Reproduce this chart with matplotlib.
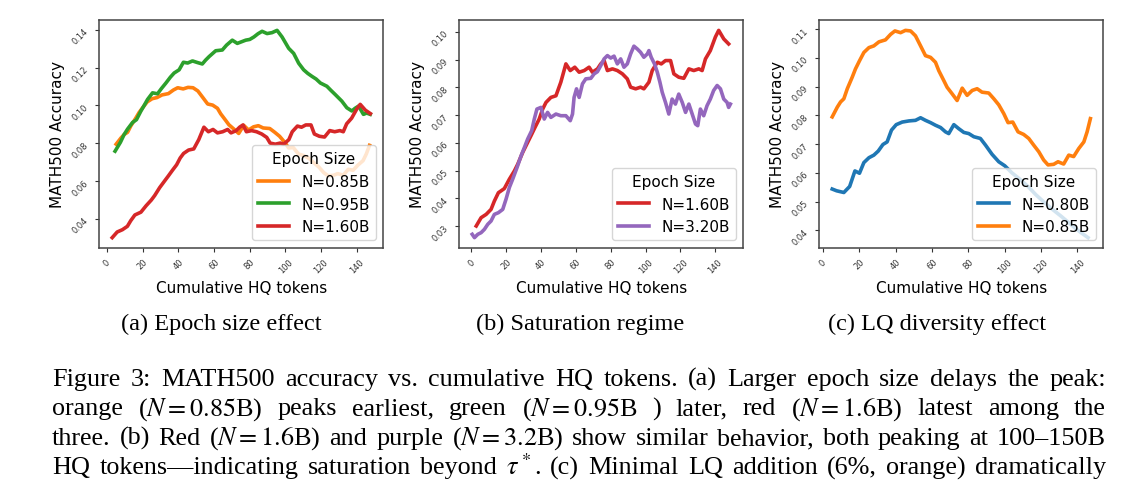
import matplotlib
matplotlib.use('Agg')
from matplotlib import pyplot as plt
from matplotlib.transforms import IdentityTransform

plt.rcParams['mathtext.fontset'] = 'stix'

''' data read off the figure '''
# N=0.85B run (appears in panels a and c)
orange_x = [5.1, 7.9, 9.7, 11.5, 13.4, 16.1, 17.9, 20.1, 22.5, 25.3, 28.0, 30.8, 34.4, 37.2, 39.6,
            42.7, 45.4, 48.2, 50.9, 53.7, 56.4, 59.2, 61.9, 63.7, 66.5, 68.3, 71.1, 73.8, 76.6, 79.3,
            82.1, 84.8, 87.5, 91.2, 94.0, 96.7, 99.5, 101.8, 104.4, 107.3, 110.4, 113.2, 115.9, 118.7,
            121.4, 123.8, 126.9, 129.3, 132.4, 135.2, 137.9, 140.7, 143.5, 145.3, 147.1]
orange_y = [0.0795, 0.0829, 0.0847, 0.0858, 0.0893, 0.0933, 0.0962, 0.0990, 0.1019, 0.1036, 0.1042,
            0.1056, 0.1063, 0.1082, 0.1094, 0.1088, 0.1096, 0.1094, 0.1077, 0.1042, 0.1008, 0.1002,
            0.0985, 0.0956, 0.0921, 0.0898, 0.0875, 0.0852, 0.0895, 0.0870, 0.0887, 0.0893, 0.0881,
            0.0878, 0.0858, 0.0837, 0.0806, 0.0775, 0.0777, 0.0743, 0.0734, 0.0720, 0.0697, 0.0674,
            0.0645, 0.0628, 0.0630, 0.0639, 0.0631, 0.0662, 0.0657, 0.0685, 0.0708, 0.0743, 0.0789]

# N=0.95B run (panel a)
green_x = [4.5, 7.5, 9.5, 11.5, 14.3, 16.5, 19.0, 20.8, 22.7, 25.5, 28.3, 30.5, 33.0, 35.5, 37.6,
           40.4, 42.8, 45.2, 47.9, 50.5, 53.4, 55.2, 57.2, 60.9, 62.8, 64.6, 67.0, 70.2, 73.0, 75.5,
           77.7, 80.0, 82.3, 84.6, 86.9, 89.7, 92.5, 95.3, 98.1, 101.8, 104.6, 107.4, 110.2, 112.5,
           114.9, 117.2, 119.6, 123.2, 125.5, 127.9, 131.6, 134.4, 137.2, 139.0, 141.0, 143.7, 145.5,
           147.5]
green_y = [0.0758, 0.0805, 0.0845, 0.0875, 0.0910, 0.0925, 0.0971, 0.1000, 0.1032, 0.1067, 0.1062,
           0.1090, 0.1119, 0.1150, 0.1172, 0.1189, 0.1229, 0.1225, 0.1236, 0.1228, 0.1220, 0.1240,
           0.1259, 0.1290, 0.1292, 0.1294, 0.1320, 0.1346, 0.1329, 0.1338, 0.1346, 0.1350, 0.1363,
           0.1380, 0.1393, 0.1381, 0.1386, 0.1398, 0.1363, 0.1303, 0.1276, 0.1224, 0.1189, 0.1170,
           0.1154, 0.1140, 0.1119, 0.1102, 0.1080, 0.1058, 0.1023, 0.0988, 0.0971, 0.0985, 0.0997,
           0.0953, 0.0960, 0.0953]

# N=1.60B run (panels a and b)
red_x = [2.9, 5.7, 8.6, 11.4, 13.3, 15.6, 19.0, 21.9, 24.8, 26.7, 29.5, 32.4, 34.3, 36.6, 39.0,
         41.0, 42.9, 45.7, 48.6, 51.4, 54.3, 56.8, 59.4, 61.9, 64.8, 67.6, 69.5, 72.4, 74.3, 76.2,
         78.1, 81.0, 83.8, 86.7, 89.5, 91.4, 94.3, 97.1, 99.0, 101.9, 103.8, 106.7, 109.0, 111.4,
         114.3, 116.2, 119.0, 121.9, 124.8, 127.6, 130.5, 132.4, 134.3, 137.1, 140.0, 141.9, 144.8,
         147.6]
red_y = [0.0300, 0.0330, 0.0342, 0.0360, 0.0390, 0.0420, 0.0435, 0.0469, 0.0499, 0.0523, 0.0565,
         0.0602, 0.0626, 0.0656, 0.0686, 0.0722, 0.0746, 0.0764, 0.0770, 0.0819, 0.0885, 0.0861,
         0.0873, 0.0855, 0.0861, 0.0873, 0.0855, 0.0867, 0.0885, 0.0897, 0.0861, 0.0867, 0.0861,
         0.0849, 0.0831, 0.0801, 0.0795, 0.0801, 0.0795, 0.0819, 0.0861, 0.0891, 0.0885, 0.0897,
         0.0897, 0.0849, 0.0837, 0.0833, 0.0867, 0.0861, 0.0867, 0.0861, 0.0903, 0.0933, 0.0982,
         0.1006, 0.0975, 0.0957]

# N=3.20B run (panel b)
purple_x = [0.6, 1.9, 3.8, 5.7, 7.6, 9.5, 11.4, 13.3, 15.6, 18.1, 20.0, 21.9, 23.8, 26.3, 28.6,
            30.5, 32.4, 34.7, 36.2, 37.7, 40.0, 41.9, 43.8, 45.7, 48.6, 51.4, 54.3, 56.8, 58.1,
            59.0, 60.4, 61.9, 63.8, 65.7, 68.6, 70.5, 72.4, 74.3, 76.2, 78.1, 80.0, 81.9, 83.8,
            85.7, 87.6, 89.5, 91.4, 93.3, 95.2, 97.1, 99.0, 101.0, 101.9, 103.2, 105.1, 106.7,
            108.2, 109.5, 111.4, 113.3, 115.2, 117.1, 119.0, 121.0, 122.9, 124.8, 126.7, 128.6,
            129.9, 131.4, 133.3, 135.2, 137.1, 139.0, 141.0, 142.9, 144.8, 146.7, 147.6, 148.6]
purple_y = [0.0270, 0.0258, 0.0270, 0.0276, 0.0288, 0.0306, 0.0318, 0.0342, 0.0348, 0.0360, 0.0397,
            0.0439, 0.0469, 0.0511, 0.0553, 0.0583, 0.0614, 0.0644, 0.0686, 0.0722, 0.0728, 0.0686,
            0.0710, 0.0692, 0.0704, 0.0698, 0.0698, 0.0680, 0.0704, 0.0764, 0.0795, 0.0764, 0.0813,
            0.0831, 0.0833, 0.0849, 0.0857, 0.0879, 0.0903, 0.0915, 0.0906, 0.0913, 0.0885, 0.0903,
            0.0873, 0.0885, 0.0921, 0.0949, 0.0939, 0.0927, 0.0909, 0.0921, 0.0933, 0.0909, 0.0885,
            0.0855, 0.0819, 0.0783, 0.0746, 0.0704, 0.0758, 0.0740, 0.0776, 0.0746, 0.0710, 0.0740,
            0.0704, 0.0668, 0.0662, 0.0722, 0.0698, 0.0734, 0.0758, 0.0789, 0.0807, 0.0795, 0.0758,
            0.0746, 0.0728, 0.0740]

# N=0.80B run (panel c)
blue_x = [5.1, 7.5, 11.5, 14.7, 17.6, 20.1, 22.5, 25.3, 28.0, 30.4, 33.0, 35.3, 37.7, 40.3, 43.6,
          47.3, 50.9, 53.7, 56.4, 59.2, 61.9, 64.7, 67.4, 69.2, 72.0, 74.7, 77.5, 80.2, 83.0, 86.6,
          89.4, 93.0, 96.7, 100.0, 104.0, 108.0, 112.8, 117.0, 122.0, 126.5, 131.1, 135.0, 138.5,
          142.0, 145.8]
blue_y = [0.0544, 0.0538, 0.0532, 0.0553, 0.0607, 0.0599, 0.0636, 0.0653, 0.0662, 0.0676, 0.0699,
          0.0708, 0.0749, 0.0768, 0.0777, 0.0781, 0.0783, 0.0792, 0.0783, 0.0775, 0.0766, 0.0758,
          0.0743, 0.0737, 0.0768, 0.0754, 0.0741, 0.0737, 0.0726, 0.0720, 0.0697, 0.0665, 0.0639,
          0.0625, 0.0600, 0.0580, 0.0553, 0.0525, 0.0496, 0.0472, 0.0449, 0.0428, 0.0409, 0.0392,
          0.0375]

xticks = [0, 20, 40, 60, 80, 100, 120, 140]
sub_captions = ['(a) Epoch size effect', '(b) Saturation regime', '(c) LQ diversity effect']
caption_lines = [
  'Figure 3:  MATH500 accuracy vs. cumulative HQ tokens.  (a) Larger epoch size delays the peak:',
  'orange ($N=0.85$B) peaks earliest, green ($N=0.95$B ) later, red ($N=1.6$B) latest among the',
  'three. (b) Red ($N=1.6$B) and purple ($N=3.2$B) show similar behavior, both peaking at 100\u2013150B',
  'HQ tokens\u2014indicating saturation beyond $\\tau^*$.  (c) Minimal LQ addition (6%, orange) dramatically',
]

C_BLUE, C_ORANGE, C_GREEN, C_RED, C_PURPLE = '#1f77b4', '#ff7f0e', '#2ca02c', '#d62728', '#9467bd'

W, H = 1142, 485
fig = plt.figure(figsize=(W / 100, H / 100), dpi=100)

panels = [
  [(orange_x, orange_y, C_ORANGE, 'N=0.85B'), (green_x, green_y, C_GREEN, 'N=0.95B'),
   (red_x, red_y, C_RED, 'N=1.60B')],
  [(red_x, red_y, C_RED, 'N=1.60B'), (purple_x, purple_y, C_PURPLE, 'N=3.20B')],
  [(blue_x, blue_y, C_BLUE, 'N=0.80B'), (orange_x, orange_y, C_ORANGE, 'N=0.85B')],
]
lefts = [99.3, 459.3, 819.3]
ax_w, ax_top, ax_bot = 284.0, 21.0, 249.0

for left, series in zip(lefts, panels):
  ax = fig.add_axes([left / W, 1 - ax_bot / H, ax_w / W, (ax_bot - ax_top) / H])
  for xs, ys, c, lab in series:
    ax.plot(xs, ys, color=c, lw=2.6, label=lab)
  ax.set_xticks(xticks)
  ax.tick_params(axis='both', labelsize=6, rotation=45, colors='#333333', length=3)
  ax.set_xlabel('Cumulative HQ tokens', fontsize=11)
  ax.set_ylabel('MATH500 Accuracy', fontsize=11)
  for s in ax.spines.values():
    s.set_color('#444444')
    s.set_linewidth(1.1)
  ax.legend(title='Epoch Size', loc='lower right', fontsize=11, title_fontsize=11)

''' caption text (pixel coordinates, y measured from top) '''
serif = dict(family='Liberation Serif', color='black')

for cx, txt in zip([221, 580, 937], sub_captions):
  fig.text(cx, H - 330, txt, transform=IdentityTransform(), ha='center', va='baseline',
           fontsize=17.5, **serif)

# justified caption block: words spread so each line spans x0..x1
renderer = fig.canvas.get_renderer()
x0, x1 = 52, 1106
for line, base in zip(caption_lines, [386, 415.5, 445, 474.5]):
  words = line.split()
  texts = [fig.text(0, H - base, w, transform=IdentityTransform(), va='baseline',
                    fontsize=18.8, **serif) for w in words]
  widths = [t.get_window_extent(renderer).width for t in texts]
  gap = (x1 - x0 - sum(widths)) / (len(words) - 1)
  x = x0
  for t, w in zip(texts, widths):
    t.set_x(x)
    x += w + gap

fig.savefig('out.png', dpi=100)
